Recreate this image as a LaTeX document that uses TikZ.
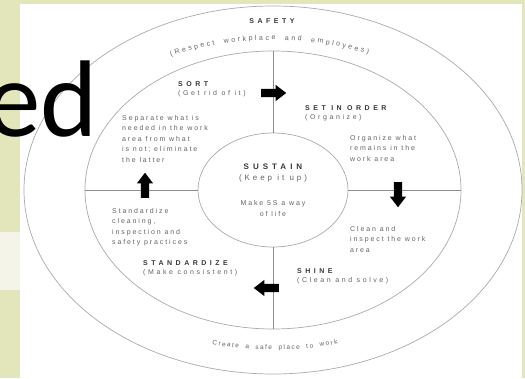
\documentclass[tikz,border=0pt]{standalone}
\usepackage{fontspec}
\setmainfont{Liberation Sans}
\newfontfamily\headfont[LetterSpace=50]{Liberation Sans}
\newfontfamily\subfont[LetterSpace=37]{Liberation Sans}
\newfontfamily\bodyfont[LetterSpace=27]{Liberation Sans}
\newfontfamily\slidefont{Carlito}
\usetikzlibrary{positioning,calc,shapes.geometric,shapes.arrows,decorations.text}
\definecolor{slideGreen}{RGB}{226,230,186}
\definecolor{paleStrip}{RGB}{244,245,232}
\definecolor{ringGray}{RGB}{170,170,170}
\definecolor{spokeGray}{RGB}{140,140,140}
\definecolor{txtDark}{RGB}{55,55,55}
\definecolor{txtBody}{RGB}{100,100,100}

\begin{document}
\begin{tikzpicture}[
    x=1pt, y=1pt,
    ring/.style={draw=ringGray, line width=0.7pt, ellipse, inner sep=0pt, outer sep=0pt},
    spoke/.style={draw=spokeGray, line width=0.7pt},
    blockarr/.style={single arrow, fill=black, inner sep=4pt, minimum height=25pt,
      single arrow head extend=4pt, single arrow tip angle=75},
    head/.style={font=\headfont\bfseries\fontsize{7}{8}\selectfont, text=txtDark, inner sep=0pt},
    sub/.style={font=\subfont\fontsize{7}{8}\selectfont, text=txtBody, inner sep=0pt},
    body/.style={font=\bodyfont\fontsize{7}{10.5}\selectfont, text=txtBody, inner sep=0pt, align=left}
  ]

  % slide background and photo
  \fill[slideGreen] (0,0) rectangle (525,378);
  \fill[white] (20,0) rectangle (522,374);
  \fill[paleStrip] (0,88) rectangle (20,146);
  \useasboundingbox (0,0) rectangle (525,378);

  % the three rings
  \node[ring, minimum width=498pt, minimum height=368pt] (outerRing) at (273,188) {};
  \node[ring, minimum width=376pt, minimum height=278pt] (midRing) at (273,188) {};
  \node[ring, minimum width=150pt, minimum height=114pt] (sustainRing) at (273,188) {};

  % spokes between middle ring and centre
  \draw[spoke] (midRing.north) -- (sustainRing.north);
  \draw[spoke] (sustainRing.east) -- (midRing.east);
  \draw[spoke] (sustainRing.south) -- (midRing.south);
  \draw[spoke] (midRing.west) -- (sustainRing.west);

  % block arrows on the spokes
  \node[blockarr] (arrSort) at (271,285) {};
  \node[blockarr, rotate=-90] (arrSet) at (398,186) {};
  \node[blockarr, rotate=180] (arrShine) at (269,90) {};
  \node[blockarr, rotate=90] (arrStd) at (145,190) {};

  % outer band
  \node[head] (safetyHd) at (272,357) {SAFETY};
  \path[decorate, decoration={text along path, text align={fit to path},
      text={|\subfont\fontsize{7}{8}\selectfont\color{txtBody}|(Respect workplace and employees)}}]
    ($(outerRing.center)+(117:225pt and 150pt)$)
    arc[start angle=117, end angle=65, x radius=225pt, y radius=150pt];
  \path[decorate, decoration={text along path, text align={fit to path},
      text={|\bodyfont\fontsize{6.5}{8}\selectfont\color{txtBody}|Create a safe place to work}}]
    ($(outerRing.center)+(255:235pt and 160pt)$)
    arc[start angle=255, end angle=286, x radius=235pt, y radius=160pt];

  % sort
  \node[head, anchor=west] (sortHd) at (178,294) {SORT};
  \node[sub, below right=4pt and 0pt of sortHd.south west] (sortSub) {(Get rid of it)};
  \node[body, anchor=north west] (sortTxt) at (122,263)
    {Separate what is\\needed in the work\\area from what\\is not; eliminate\\the latter};

  % set in order
  \node[head, anchor=west] (setHd) at (305,270) {SET IN ORDER};
  \node[sub, below right=4pt and 0pt of setHd.south west] (setSub) {(Organize)};
  \node[body, anchor=north west] (setTxt) at (350,243)
    {Organize what\\remains in the\\work area};

  % shine
  \node[body, anchor=north west] (shineTxt) at (350,152)
    {Clean and\\inspect the work\\area};
  \node[head, anchor=west] (shineHd) at (297,107) {SHINE};
  \node[sub, below right=4pt and 0pt of shineHd.south west] (shineSub) {(Clean and solve)};

  % standardize
  \node[body, anchor=north west] (stdTxt) at (112,170)
    {Standardize\\cleaning,\\inspection and\\safety practices};
  \node[head, anchor=west] (stdHd) at (143,115) {STANDARDIZE};
  \node[sub, below right=4pt and 0pt of stdHd.south west] (stdSub) {(Make consistent)};

  % sustain
  \node[head, font=\headfont\bfseries\fontsize{8}{9}\selectfont] (sustainHd) at (273,211) {SUSTAIN};
  \node[sub, font=\subfont\fontsize{8}{9}\selectfont, below=4pt of sustainHd] (sustainSub) {(Keep it up)};
  \node[body, align=center] (sustainTxt) at (273,169.5) {Make 5S a way\\of life};

  % slide title fragment
  \node[font=\slidefont\fontsize{109}{109}\selectfont, anchor=base east, inner sep=0pt] (titleEd) at (98,241) {ed};
\end{tikzpicture}
\end{document}
